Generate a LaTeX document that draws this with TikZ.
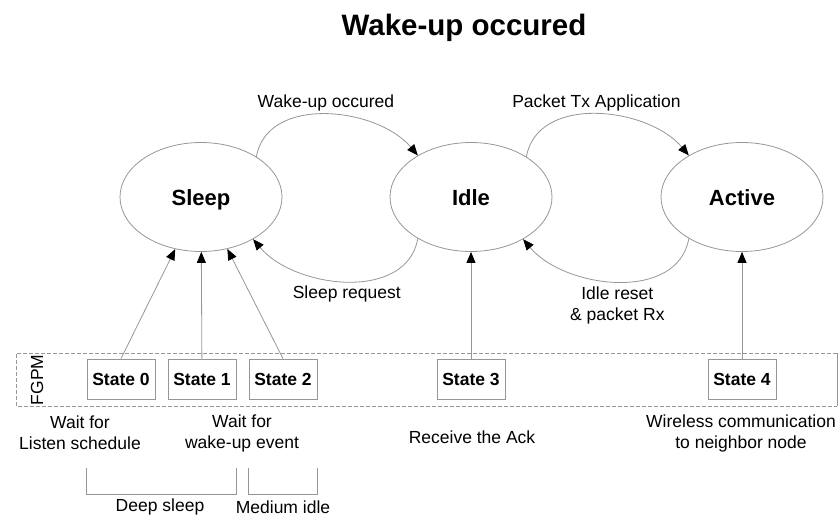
\documentclass[tikz,border=0pt]{standalone}
\usepackage{fontspec}
\setmainfont{Liberation Sans}
\usetikzlibrary{arrows.meta,shapes.geometric}
\definecolor{edgegray}{RGB}{150,150,150}
\begin{document}
\begin{tikzpicture}[x=1pt,y=-1pt,
  mode/.style={draw=edgegray,line width=0.8pt,ellipse,minimum width=162pt,minimum height=109pt,
    text height=16pt,text depth=0pt,font=\fontsize{22}{26}\selectfont\bfseries},
  statebox/.style={draw=edgegray,line width=0.8pt,minimum width=68pt,minimum height=40pt,inner sep=0pt,
    font=\fontsize{17.5}{21}\selectfont\bfseries},
  txt/.style={align=center,inner sep=0pt,font=\fontsize{17.5}{21}\selectfont},
  flow/.style={draw=edgegray,line width=0.8pt,-{Triangle[length=11pt,width=9pt,color=black]}},
  plain/.style={draw=edgegray,line width=0.8pt}]
\useasboundingbox (0,0) rectangle (840,519);

\node[font=\fontsize{29.5}{34}\selectfont\bfseries] (title) at (464,28) {Wake-up occured};

\node[mode] (sleep) at (201,197) {Sleep};
\node[mode] (idle) at (471,197) {Idle};
\node[mode] (active) at (742,197) {Active};

\node[statebox] (s0) at (121,379) {State 0};
\node[statebox] (s1) at (202,379) {State 1};
\node[statebox] (s2) at (283,379) {State 2};
\node[statebox] (s3) at (471,379) {State 3};
\node[statebox] (s4) at (742,379) {State 4};

% FGPM frame
\path[plain,dash pattern=on 4pt off 2pt] (837,353) -- (16,353) -- (16,406) -- (837,406);
\path[plain] (837,353) -- (837,406);
\node[txt,rotate=90] (fgpm) at (37,380) {FGPM};

\path[flow] (sleep.36) to[out=80,in=130] node[txt,above=3pt] (wake) {Wake-up occured} (idle.142);
\path[flow] (idle.218) to[out=-100,in=-50] node[txt,below=4pt] (req) {Sleep request} (sleep.321);
\path[flow] (idle.36) to[out=80,in=130] node[txt,above=3pt] (tx) {Packet Tx Application} (active.142);
\path[flow] (active.218) to[out=-100,in=-50] node[txt,below=5pt] (rx) {Idle reset\\\& packet Rx} (idle.321);

\path[flow] (s0.north) -- (sleep);
\path[flow] (s1) -- (sleep);
\path[flow] (s2.north) -- (sleep);
\path[flow] (s3) -- (idle);
\path[flow] (s4) -- (active);

\node[txt] (listen) at (80,433) {Wait for\\Listen schedule};
\node[txt] (wait) at (242,433) {Wait for\\wake-up event};
\node[txt] (ack) at (472,437) {Receive the Ack};
\node[txt] (wireless) at (741,433) {Wireless communication\\to neighbor node};

% brackets
\path[plain] (s0.west |- 0,468) -- (s0.west |- 0,494) -- (s1.east |- 0,494) -- (s1.east |- 0,468);
\path[plain] (s2.west |- 0,468) -- (s2.west |- 0,494) -- (s2.east |- 0,494) -- (s2.east |- 0,468);
\node[txt] (deep) at (160,507) {Deep sleep};
\node[txt] (medium) at (283,507) {Medium idle};
\end{tikzpicture}
\end{document}
